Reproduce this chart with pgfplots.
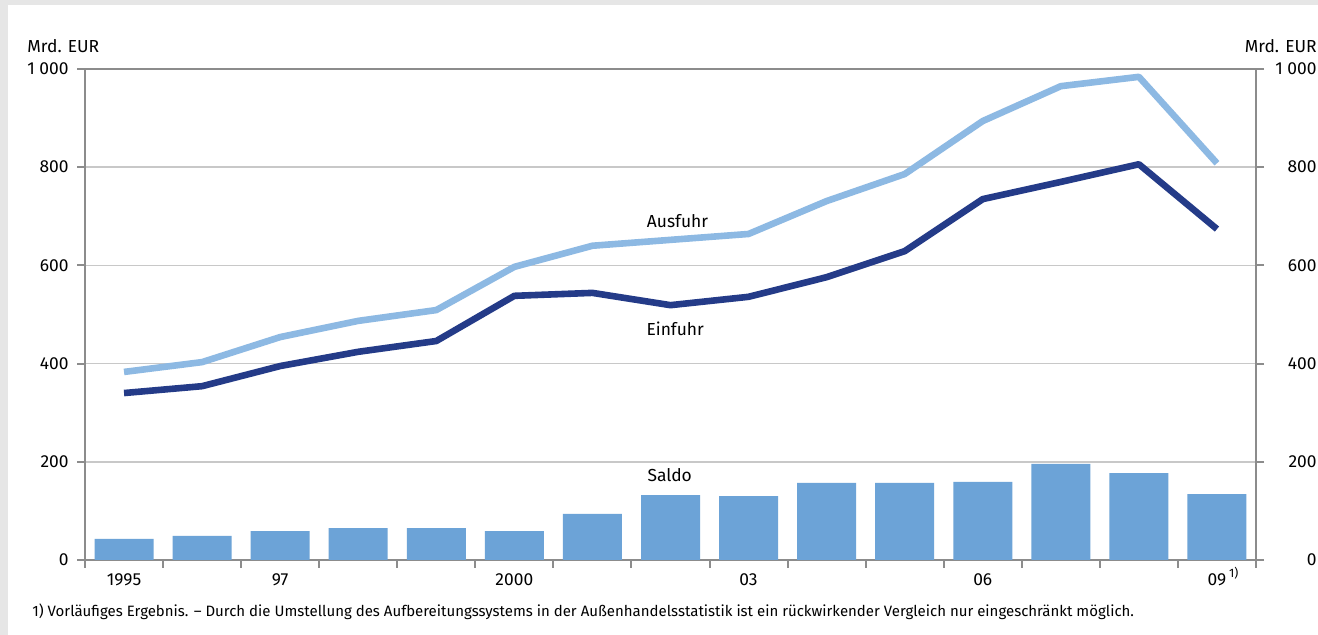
\documentclass[border=0pt]{standalone}
\usepackage{fontspec}
\setmainfont{Fira Sans}
\usepackage{pgfplots}
\pgfplotsset{compat=1.18}
\definecolor{bg}{HTML}{E6E6E6}
\definecolor{axgray}{HTML}{8C8C8C}
\definecolor{gridgray}{HTML}{C8C8C8}
\definecolor{ausfuhr}{HTML}{8DB9E3}
\definecolor{einfuhr}{HTML}{243B88}
\definecolor{saldo}{HTML}{6CA3D7}
\pgfplotstableread{
x aus ein sal
0 383 340 43
1 403 354 49
2 454 395 59
3 487 424 65
4 509 446 65
5 597 538 59
6 640 544 94
7 652 519 132
8 664 536 130
9 731 576 157
10 786 629 157
11 894 735 159
12 965 770 196
13 984 806 177
14 808 674 134
}\datatable
\begin{document}
\fontsize{8.7pt}{10pt}\selectfont
\begin{tikzpicture}
\useasboundingbox (0,0) rectangle (659pt,317.5pt);
\fill[bg] (0,0) rectangle (659pt,317.5pt);
\fill[white] (4pt,0) rectangle (659pt,315pt);
\begin{axis}[
 at={(42.5pt,37.5pt)}, anchor=south west,
 scale only axis, width=585.5pt, height=245.5pt,
 xmin=-0.5, xmax=14.5, ymin=0, ymax=1000,
 axis line style={axgray, line width=1pt},
 ytick={0,200,400,600,800,1000},
 yticklabels={0,200,400,600,800,1\ 000},
 ytick pos=left,
 ymajorgrids, grid style={gridgray, line width=0.75pt},
 xtick={-0.5,0.5,...,14.5}, xticklabels={},
 tick align=outside, major tick length=4pt,
 tick style={axgray, line width=1pt},
 xtick pos=bottom,
 yticklabel style={anchor=east, inner sep=0pt, xshift=-4pt},
 extra x ticks={0,2,5,8,11,14},
 extra x tick labels={1995,97,2000,03,06,{09\rlap{\,\smash{\textsuperscript{1)}}}}},
 extra x tick style={major tick length=0pt, tick style={draw=none},
   xticklabel style={anchor=north, inner sep=0pt, yshift=-6.5pt}},
 clip=false,
]
\addplot[ybar, bar width=29.5pt, fill=saldo, draw=none] table[x=x,y=sal]{\datatable};
\addplot[ausfuhr, line width=3.3pt, line join=round] table[x=x,y=aus]{\datatable};
\addplot[einfuhr, line width=3.3pt, line join=round] table[x=x,y=ein]{\datatable};
\node[anchor=base] at (axis cs:7.09,678) {Ausfuhr};
\node[anchor=base] at (axis cs:7.06,458) {Einfuhr};
\node[anchor=base] at (axis cs:6.99,159) {Saldo};
\end{axis}
\begin{axis}[
 at={(42.5pt,37.5pt)}, anchor=south west,
 scale only axis, width=585.5pt, height=245.5pt,
 xmin=-0.5, xmax=14.5, ymin=0, ymax=1000,
 axis x line=none, axis y line*=right,
 axis line style={axgray, line width=1pt},
 ytick={0,200,400,600,800,1000},
 yticklabels={0,200,400,600,800,1\ 000},
 tick align=outside, major tick length=4pt,
 tick style={axgray, line width=1pt},
 yticklabel style={anchor=east, inner sep=0pt, xshift=26.5pt},
]
\end{axis}
\node[anchor=base west, inner sep=0pt] at (13.5pt,291pt) {Mrd. EUR};
\node[anchor=base east, inner sep=0pt] at (658.5pt,291pt) {Mrd. EUR};
\node[anchor=base west, inner sep=0pt] at (16pt,9pt) {\fontsize{7.5pt}{9pt}\selectfont 1) Vorläufiges Ergebnis. – Durch die Umstellung des Aufbereitungssystems in der Außenhandelsstatistik ist ein rückwirkender Vergleich nur eingeschränkt möglich.};
\end{tikzpicture}
\end{document}
